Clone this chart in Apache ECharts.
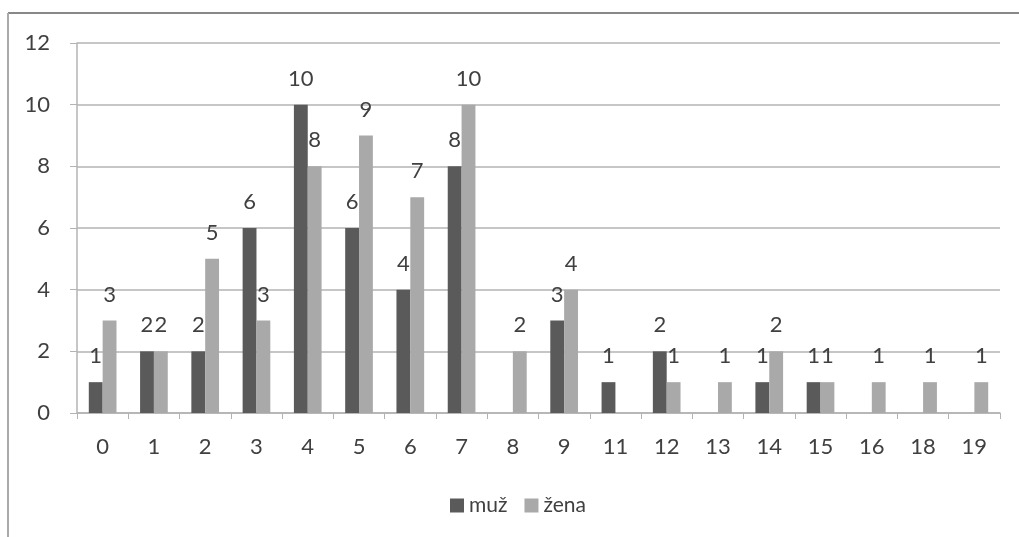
<!DOCTYPE html>
<html><head><meta charset="utf-8">
<script src="https://cdn.jsdelivr.net/npm/echarts@6/dist/echarts.min.js"></script>
<style>html,body{margin:0;padding:0;background:#fff}#c{width:1019px;height:537px}</style>
</head><body><div id="c"></div>
<script>
var categories = ['0','1','2','3','4','5','6','7','8','9','11','12','13','14','15','16','18','19'];
var muz  = [1,2,2,6,10,6,4,8,null,3,1,2,null,1,1,null,null,null];
var zena = [3,2,5,3,8,9,7,10,2,4,null,1,1,2,1,1,1,1];
var seriesNames = ['muž','žena'];
var yTicks = {min:0, max:12, interval:2};

var chart = echarts.init(document.getElementById('c'), null, {renderer:'canvas'});
var font = 'Lato';
var lbl = {show:true, position:'top', color:'#404040', fontSize:22, fontFamily:font, distance:15};
chart.setOption({
  animation:false,
  backgroundColor:'#fff',
  textStyle:{fontFamily:font, fontSize:22},
  graphic:[
    {type:'line', shape:{x1:8,y1:13,x2:1019,y2:13}, style:{stroke:'#888',lineWidth:2}},
    {type:'line', shape:{x1:8,y1:13,x2:8,y2:537}, style:{stroke:'#aaa',lineWidth:2}}
  ],
  grid:{left:77, right:19, top:43, bottom:124, containLabel:false},
  legend:{bottom:16, left:445, itemWidth:14, itemHeight:14, itemGap:17,
    icon:'rect', textStyle:{color:'#404040', fontSize:21, fontFamily:font}, data:seriesNames},
  xAxis:{type:'category', data:categories,
    axisLine:{lineStyle:{color:'#b3b3b3', width:1.5}},
    axisTick:{show:true, length:6, alignWithLabel:false, lineStyle:{color:'#b3b3b3'}},
    axisLabel:{color:'#404040', fontSize:22, fontFamily:font, margin:23}},
  yAxis:{type:'value', min:yTicks.min, max:yTicks.max, interval:yTicks.interval,
    axisLine:{show:true, lineStyle:{color:'#b3b3b3', width:1.5}},
    axisTick:{show:true, length:7, lineStyle:{color:'#b3b3b3'}},
    splitLine:{lineStyle:{color:'#b3b3b3', width:1.5}},
    axisLabel:{color:'#404040', fontSize:22, fontFamily:font, margin:27}},
  series:[
    {name:seriesNames[0], type:'bar', data:muz, barGap:'0%', barCategoryGap:'46%',
      itemStyle:{color:'#5a5a5a'}, label:lbl},
    {name:seriesNames[1], type:'bar', data:zena, barGap:'0%', barCategoryGap:'46%',
      itemStyle:{color:'#a9a9a9'}, label:lbl}
  ]
});
</script></body></html>
